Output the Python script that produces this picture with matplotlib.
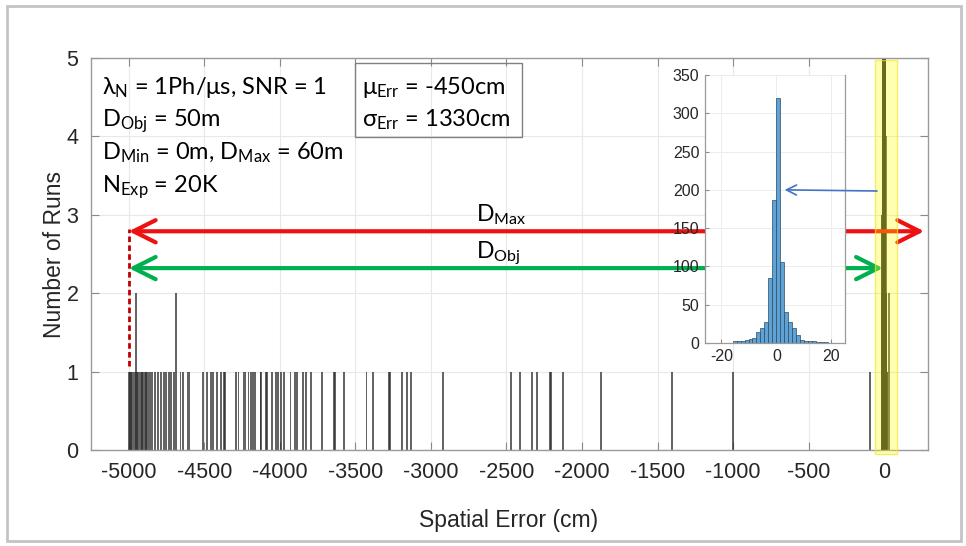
import matplotlib
matplotlib.use('Agg')
import matplotlib.pyplot as plt
from matplotlib.patches import Rectangle

# ---------------- data ----------------
# spatial error of individual runs (cm) and their counts in the main histogram
run_positions_cm = [-5000, -4992, -4985, -4977, -4969, -4961, -4954, -4945, -4937, -4929,
                    -4921, -4912, -4904, -4895, -4887, -4878, -4870, -4862, -4846, -4828,
                    -4806, -4784, -4769, -4753, -4735, -4718, -4702, -4685, -4658, -4643,
                    -4608, -4598, -4509, -4482, -4458, -4443, -4414, -4392, -4370, -4364,
                    -4288, -4274, -4237, -4227, -4208, -4193, -4178, -4165, -4128, -4124,
                    -4094, -4083, -4050, -4028, -4010, -3995, -3973, -3929, -3900, -3889,
                    -3849, -3827, -3794, -3722, -3640, -3633, -3573, -3426, -3382, -3278,
                    -3271, -3190, -3161, -3130, -2919, -2469, -2412, -2330, -2297, -2210,
                    -2206, -2128, -1874, -1402, -1003, -93, 33]
run_counts = [1, 1, 1, 1, 1, 1, 2, 1, 1, 1,
              1, 1, 1, 1, 1, 1, 1, 1, 1, 1,
              1, 1, 1, 1, 1, 1, 1, 2, 1, 1,
              1, 1, 1, 1, 1, 1, 1, 1, 1, 1,
              1, 1, 1, 1, 1, 1, 1, 1, 1, 1,
              1, 1, 1, 1, 1, 1, 1, 1, 1, 1,
              1, 1, 1, 1, 1, 1, 1, 1, 1, 1,
              1, 1, 1, 1, 1, 1, 1, 1, 1, 1,
              1, 1, 1, 1, 1, 1, 2]

# zoomed histogram around zero error (cm)
peak_bin_centers_cm = [-15.225, -13.775, -12.325, -10.875, -9.425, -7.975, -6.525, -5.075,
                       -3.625, -2.175, -0.725, 0.725, 2.175, 3.625, 5.075, 6.525, 7.975,
                       9.425, 10.875, 12.325, 13.775, 15.225, 16.675, 18.125]
peak_bin_counts = [2, 3, 3, 4, 5, 6, 15, 20, 27, 85, 187, 320, 106, 40, 28, 19, 10,
                   4, 2, 2, 2, 1, 1, 1]
peak_bin_width = 1.45

x_ticks = [-5000, -4500, -4000, -3500, -3000, -2500, -2000, -1500, -1000, -500, 0]
y_ticks = [0, 1, 2, 3, 4, 5]
inset_x_ticks = [-20, 0, 20]
inset_y_ticks = [0, 50, 100, 150, 200, 250, 300, 350]

d_max_arrow = (-5000, 265, 2.79)   # x start, x end, y
d_obj_arrow = (-5000, -8, 2.32)
d_max_marker = (-5000, 1.07, 2.82)

params_lines = [r'λ$_{\mathrm{N}}$ = 1Ph/μs, SNR = 1',
                r'D$_{\mathrm{Obj}}$ = 50m',
                r'D$_{\mathrm{Min}}$ = 0m, D$_{\mathrm{Max}}$ = 60m',
                r'N$_{\mathrm{Exp}}$ = 20K']
stats_lines = [r'μ$_{\mathrm{Err}}$ = -450cm',
               r'σ$_{\mathrm{Err}}$ = 1330cm']

# ---------------- style ----------------
plt.rcParams['mathtext.fontset'] = 'custom'
plt.rcParams['mathtext.rm'] = 'Lato'
plt.rcParams['mathtext.it'] = 'Lato:italic'
plt.rcParams['mathtext.bf'] = 'Lato:bold'

W, H = 966, 546
fig = plt.figure(figsize=(W / 100, H / 100), dpi=100)
fig.patch.set_facecolor('white')


def fx(px):
    return px / W


def fy(py):
    return 1 - py / H


tick_font = ['Liberation Sans', 'DejaVu Sans']
anno_font = ['Lato', 'DejaVu Sans']

# ---------------- main axes ----------------
ax = fig.add_axes([fx(91), fy(450), fx(928) - fx(91), fy(58) - fy(450)])
all_pos = run_positions_cm + peak_bin_centers_cm
all_cnt = run_counts + peak_bin_counts
ax.bar(all_pos, all_cnt, width=12, color='#2a2a2a', alpha=0.72, linewidth=0, zorder=2)

ax.set_xlim(-5250, 290)
ax.set_ylim(0, 5)
ax.set_xticks(x_ticks)
ax.set_yticks(y_ticks)
ax.set_xticklabels([str(v) for v in x_ticks], family=tick_font)
ax.set_yticklabels([str(v) for v in y_ticks], family=tick_font)
ax.grid(True, color='#e8e8e8', lw=0.8)
ax.set_axisbelow(True)
ax.tick_params(direction='in', length=6, top=True, right=True, color='#8a8a8a',
               labelsize=15.5, labelcolor='#262626', pad=9)
for s in ax.spines.values():
    s.set_color('#9a9a9a')
    s.set_linewidth(1.0)

fig.text(fx(55), fy(255), 'Number of Runs', rotation=90, ha='center', va='center',
         fontsize=16.5, family=tick_font, color='#262626')
fig.text(fx(509), fy(521), 'Spatial Error (cm)', ha='center', va='center',
         fontsize=16.5, family=tick_font, color='#262626')

# arrows
ax.annotate('', xy=(d_max_arrow[0], d_max_arrow[2]), xytext=(d_max_arrow[1], d_max_arrow[2]),
            arrowprops=dict(arrowstyle='<->, head_length=0.8, head_width=0.4', color='#ee1111',
                            lw=3, shrinkA=0, shrinkB=0, mutation_scale=20), zorder=4,
            annotation_clip=False)
ax.annotate('', xy=(d_obj_arrow[0], d_obj_arrow[2]), xytext=(d_obj_arrow[1], d_obj_arrow[2]),
            arrowprops=dict(arrowstyle='<->, head_length=0.8, head_width=0.4', color='#00b050',
                            lw=3, shrinkA=0, shrinkB=0, mutation_scale=20), zorder=4)
ax.plot([d_max_marker[0], d_max_marker[0]], [d_max_marker[1], d_max_marker[2]],
        color='#c00000', ls=(0, (2, 1.2)), lw=2, zorder=4)

ax.text(-2702, 2.91, r'D$_{\mathrm{Max}}$', fontsize=16.5, family=anno_font, color='black',
        va='baseline', ha='left', zorder=6)
ax.text(-2702, 2.44, r'D$_{\mathrm{Obj}}$', fontsize=16.5, family=anno_font, color='black',
        va='baseline', ha='left', zorder=6)

# yellow highlight
ax.add_patch(Rectangle((-60, -0.05), 146, 5.02, facecolor=(1, 1, 0, 0.3),
                       edgecolor=(0.95, 0.9, 0.2, 0.7), lw=1, clip_on=False, zorder=5))

# text blocks
base_y = [94, 126.5, 159.5, 192]
for line, by in zip(params_lines, base_y):
    fig.text(fx(102), fy(by), line, fontsize=17, family=anno_font, va='baseline', ha='left',
             color='black', zorder=10)
for line, by in zip(stats_lines, base_y[:2]):
    fig.text(fx(362), fy(by), line, fontsize=17, family=anno_font, va='baseline', ha='left',
             color='black', zorder=10)
fig.add_artist(Rectangle((fx(355), fy(137)), fx(522) - fx(355), fy(63) - fy(137),
                         transform=fig.transFigure, fill=False, edgecolor='#808080', lw=1))

# ---------------- inset ----------------
ax_in = fig.add_axes([fx(705), fy(343), fx(845) - fx(705), fy(75) - fy(343)])
ax_in.set_facecolor('white')
ax_in.bar(peak_bin_centers_cm, peak_bin_counts, width=peak_bin_width, color='#5fa3d6',
          edgecolor='#2b4a66', linewidth=0.5, zorder=2)
ax_in.set_xlim(-26, 25)
ax_in.set_ylim(0, 350)
ax_in.set_xticks(inset_x_ticks)
ax_in.set_yticks(inset_y_ticks)
ax_in.set_xticklabels([str(v) for v in inset_x_ticks], family=tick_font)
ax_in.set_yticklabels([str(v) for v in inset_y_ticks], family=tick_font)
ax_in.grid(True, color='#ececec', lw=0.7)
ax_in.set_axisbelow(True)
ax_in.tick_params(direction='in', length=3, color='#8a8a8a', labelsize=11.5,
                  labelcolor='#262626', pad=4)
for s in ax_in.spines.values():
    s.set_color('#9a9a9a')
    s.set_linewidth(0.9)
ax_in.spines['top'].set_visible(False)

ax_in.annotate('', xy=(3, 200), xycoords='data', xytext=(fx(877), fy(191)),
               textcoords='figure fraction',
               arrowprops=dict(arrowstyle='->, head_length=0.6, head_width=0.3', color='#4472c4',
                               lw=1.2, shrinkA=0, shrinkB=0, mutation_scale=12),
               annotation_clip=False, zorder=10)

# outer frame
fig.add_artist(Rectangle((fx(7), fy(541)), fx(961) - fx(7), fy(6) - fy(541),
                         transform=fig.transFigure, fill=False, edgecolor='#c4c4c4', lw=2))

fig.savefig('out.png', dpi=100, facecolor='white')
